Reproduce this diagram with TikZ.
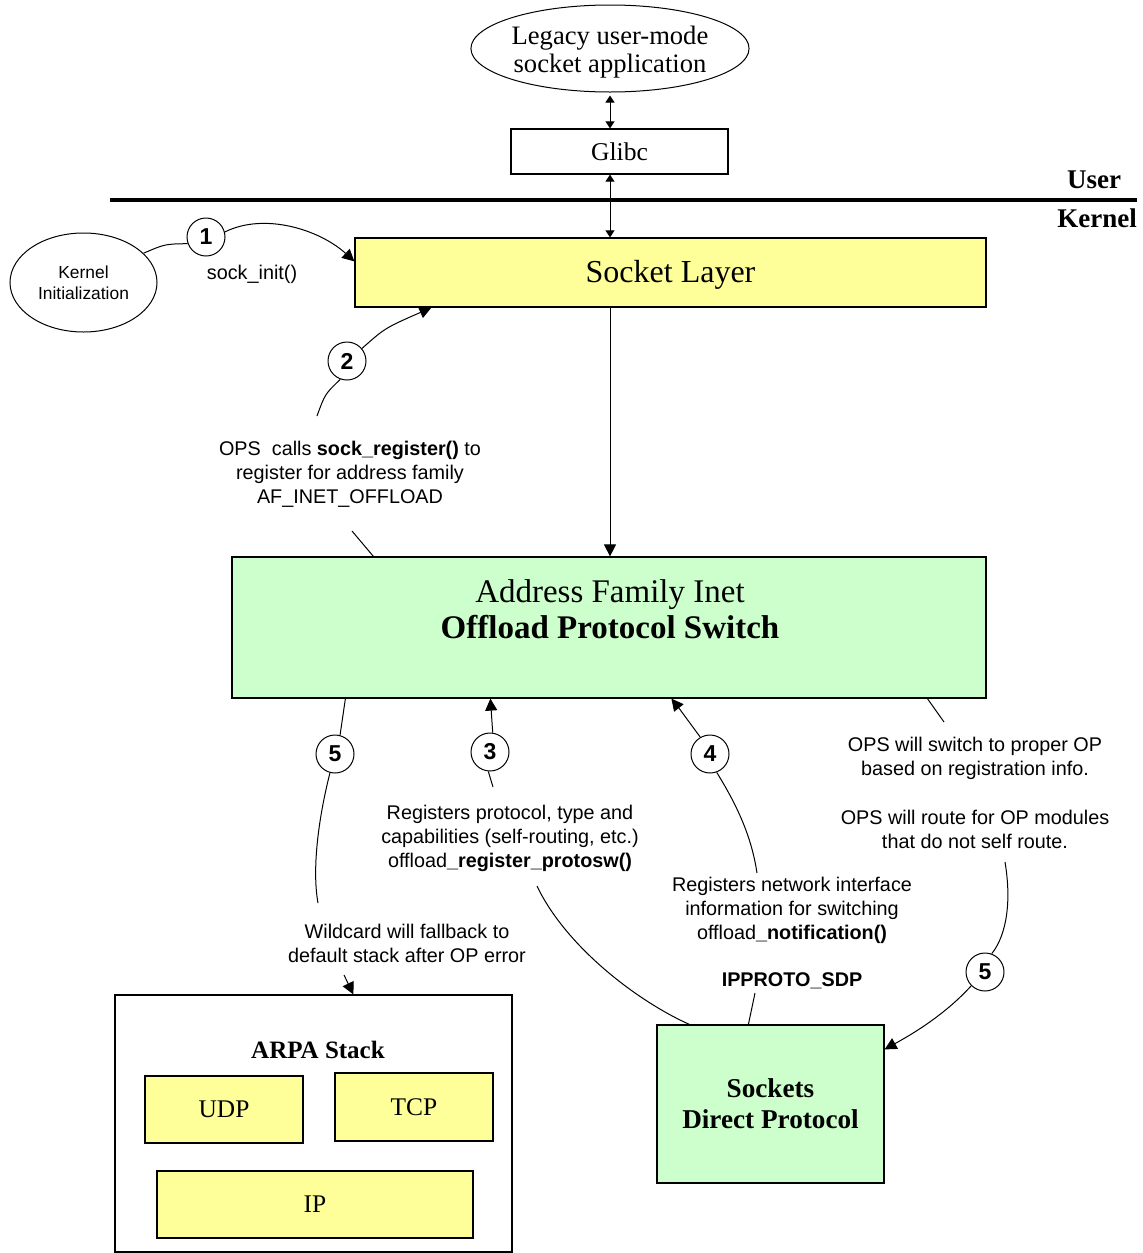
\documentclass[tikz,border=0pt]{standalone}
\usepackage{fontspec}
\setmainfont{Liberation Serif}
\setsansfont{Liberation Sans}
\usetikzlibrary{shapes.geometric,arrows.meta,calc}
\definecolor{layeryellow}{HTML}{FFFF99}
\definecolor{switchgreen}{HTML}{CCFFCC}
\tikzset{
	box/.style={draw=black, line width=0.6pt, inner sep=0pt},
	layer/.style={box, fill=layeryellow},
	opsbox/.style={box, fill=switchgreen},
	oval/.style={ellipse, draw=black, line width=0.5pt, inner sep=0pt, align=center},
	stepnum/.style={circle, draw=black, line width=0.5pt, fill=white, minimum size=19pt, inner sep=0pt, font=\sffamily\bfseries\fontsize{11.5}{12}\selectfont},
	note/.style={align=center, inner sep=0pt, font=\sffamily\fontsize{9.9}{12}\selectfont},
	link/.style={draw=black, line width=0.5pt},
	arr/.style={link, -{Triangle[length=6pt,width=6pt]}},
	dblarr/.style={link, {Triangle[length=3.5pt,width=4.5pt]}-{Triangle[length=3.5pt,width=4.5pt]}}
}
\begin{document}
\begin{tikzpicture}[x=0.5pt, y=-0.5pt]
	\useasboundingbox (0,0) rectangle (1143,1253);
	\node[oval, minimum width=138pt, minimum height=43.5pt, font=\fontsize{13.3}{14}\selectfont] (legacy) at (610,48.5) {\rule{0pt}{12.5pt}Legacy user-mode\\socket application};
	\node[box, minimum width=108.5pt, minimum height=22.5pt, font=\fontsize{12.8}{14}\selectfont] (glibc) at (619.5,151.5) {Glibc};
	\draw[line width=2.2pt] (110,200) -- (1137,200);
	\node[font=\bfseries\fontsize{13.5}{14}\selectfont] (user) at (1094,180) {User};
	\node[font=\bfseries\fontsize{13.5}{14}\selectfont] (kernel) at (1097,218) {Kernel};
	\node[layer, minimum width=315.5pt, minimum height=34.5pt, font=\fontsize{16}{18}\selectfont] (socket) at (670.5,272.5) {\rule{0pt}{13.5pt}Socket Layer};
	\node[oval, minimum width=73.5pt, minimum height=49.5pt, font=\sffamily\fontsize{8.7}{10.5}\selectfont] (kinit) at (83.5,282.5) {Kernel\\Initialization};
	\node[stepnum] (c1) at (206,237) {1};
	\node[note] (sockinit) at (252,274) {sock\_init()};
	\node[stepnum] (c2) at (347,361) {2};
	\node[note] (opsreg) at (350,474) {OPS~ calls \textbf{sock\_register()} to\\register for address family\\AF\_INET\_OFFLOAD};
	\node[opsbox, minimum width=377pt, minimum height=70.5pt] (afi) at (609,627.5) {};
	\node[align=center, inner sep=0pt, font=\fontsize{16.5}{18}\selectfont] (afitext) at (610,609) {Address Family Inet\\\textbf{Offload Protocol Switch}};
	\node[stepnum] (c5a) at (335,754) {5};
	\node[stepnum] (c3) at (490,752) {3};
	\node[stepnum] (c4) at (710,754) {4};
	\node[note] (protosw) at (510,838) {Registers protocol, type and\\capabilities (self-routing, etc.)\\offload\textbf{\_register\_protosw()}};
	\node[note] (wildcard) at (407,943) {Wildcard will fallback to\\default stack after OP error};
	\node[note] (notify) at (792,910) {Registers network interface\\information for switching\\offload\textbf{\_notification()}};
	\node[note, font=\sffamily\bfseries\fontsize{9.9}{12}\selectfont] (ipproto) at (792,981) {IPPROTO\_SDP};
	\node[note] (opsswitch) at (975,758) {OPS will switch to proper OP\\based on registration info.};
	\node[note] (opsroute) at (975,829) {OPS will route for OP modules\\that do not self route.};
	\node[stepnum] (c5b) at (985,972) {5};
	\node[opsbox, minimum width=113.5pt, minimum height=79pt, align=center, font=\bfseries\fontsize{13.6}{15.5}\selectfont] (sdp) at (770.5,1104) {Sockets\\Direct Protocol};
	\node[box, fill=white, minimum width=198.5pt, minimum height=128.5pt] (arpa) at (313.5,1123.5) {};
	\node[font=\bfseries\fontsize{12.5}{14}\selectfont] (arpatitle) at (318,1050) {ARPA Stack};
	\node[layer, minimum width=79pt, minimum height=33.5pt, font=\fontsize{12.7}{14}\selectfont] (udp) at (224,1109.5) {UDP};
	\node[layer, minimum width=79pt, minimum height=34pt, font=\fontsize{12.7}{14}\selectfont] (tcp) at (414,1107) {TCP};
	\node[layer, minimum width=158pt, minimum height=33.5pt, font=\fontsize{12.7}{14}\selectfont] (ip) at (315,1204.5) {IP};
	\coordinate (c2tail) at (317,416);
	\coordinate (opsfoot) at (352,531);
	\coordinate (c5atail) at (318,903);
	\coordinate (wildfoot) at (344,975);
	\coordinate (c3tail) at (493,787);
	\coordinate (protofoot) at (537,886);
	\coordinate (c4tail) at (757,873);
	\coordinate (ipfoot) at (755,993);
	\coordinate (switchfoot) at (944,722);
	\coordinate (routefoot) at (1005,862);
	\draw[dblarr] ([yshift=-1.5pt]legacy.south) -- (legacy.south |- glibc.north);
	\draw[dblarr] (legacy.south |- glibc.south) -- (legacy.south |- socket.north);
	\draw[arr] (legacy.south |- socket.south) -- (legacy.south |- afi.north);
	\draw[link] (kinit.26) .. controls (165,244) .. (c1.200);
	\draw[arr] (c1.15) .. controls (265,212) and (320,230) .. ($(socket.north west)+(0,24)$);
	\draw[link] (c2tail) .. controls (325,394) .. (c2.250);
	\draw[arr] (c2.40) .. controls (385,328) .. ($(socket.south west)+(77,0)$);
	\draw[link] (opsfoot) -- ($(afi.north west)+(142,0)$);
	\draw[link] ($(afi.south west)+(114,0)$) -- (c5a.75);
	\draw[link] (c5a.255) .. controls (318,820) and (312,870) .. (c5atail);
	\draw[arr] (wildfoot) -- ($(arpa.north west)+(239,0)$);
	\draw[arr] (c3.82) -- ($(afi.south west)+(259,0)$);
	\draw[link] (c3.265) -- (c3tail);
	\draw[link] (protofoot) .. controls (565,945) and (635,1000) .. ($(sdp.north west)+(33,0)$);
	\draw[arr] (c4.120) .. controls (690,722) .. ($(afi.south west)+(440,0)$);
	\draw[link] (c4.290) .. controls (740,810) and (752,840) .. (c4tail);
	\draw[link] (ipfoot) -- ($(sdp.north west)+(92,0)$);
	\draw[link] ($(afi.south west)+(696,0)$) -- (switchfoot);
	\draw[link] (routefoot) .. controls (1013,910) and (1003,940) .. (c5b.70);
	\draw[arr] (c5b.225) .. controls (942,1018) and (905,1038) .. ($(sdp.north east)+(0,25)$);
\end{tikzpicture}
\end{document}
